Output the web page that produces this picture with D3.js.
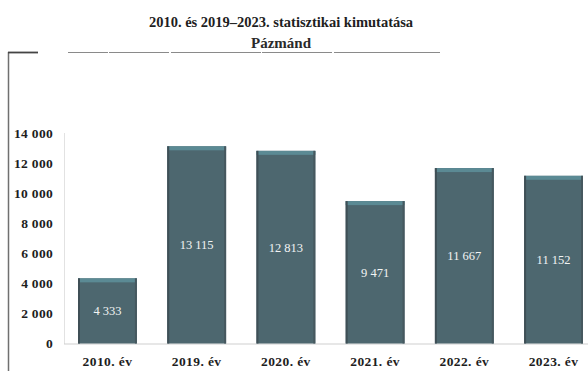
<!DOCTYPE html>
<html>
<head>
<meta charset="utf-8">
<script src="https://cdn.jsdelivr.net/npm/d3@7/dist/d3.min.js"></script>
<style>
  html, body { margin: 0; padding: 0; background: #fff; }
  svg { display: block; }
</style>
</head>
<body>
<svg id="chart" width="588" height="371"></svg>
<script>
// Pázmánd – annual figures, 2010 and 2019–2023
const categories = ["2010. év", "2019. év", "2020. év", "2021. év", "2022. év", "2023. év"];
const values = [4333, 13115, 12813, 9471, 11667, 11152];
const yTicks = [0, 2000, 4000, 6000, 8000, 10000, 12000, 14000];
const titleLines = ["2010. és 2019–2023. statisztikai kimutatása", "Pázmánd"];

const svg = d3.select("#chart");
const serif = "'Liberation Serif', 'DejaVu Serif', serif";

// thousands separated by a space, Hungarian style
const fmt = v => d3.format(",")(v).replace(/,/g, " ");

const x = d3.scaleBand()
  .domain(categories)
  .range([78, 583])
  .paddingInner(0.34)
  .paddingOuter(0);

const y = d3.scaleLinear()
  .domain([0, 14000])
  .range([343.5, 133]);

// page frame: left rule and top rule
svg.append("line")
  .attr("x1", 8.5).attr("x2", 8.5).attr("y1", 52).attr("y2", 371)
  .attr("stroke", "#707070").attr("stroke-width", 1.5);
svg.append("line")
  .attr("x1", 8).attr("x2", 38).attr("y1", 52.5).attr("y2", 52.5)
  .attr("stroke", "#444").attr("stroke-width", 1.8);
svg.append("line")
  .attr("x1", 68).attr("x2", 440).attr("y1", 52.5).attr("y2", 52.5)
  .attr("stroke", "#8a8a8a").attr("stroke-width", 1)
  .attr("stroke-dasharray", "40 1 60 2 90 1 70 2 110");

// title
svg.append("text")
  .attr("x", 281).attr("y", 27)
  .attr("text-anchor", "middle")
  .attr("font-family", serif).attr("font-weight", "bold")
  .attr("font-size", 14.5).attr("fill", "#1e1e1e")
  .text(titleLines[0]);
svg.append("text")
  .attr("x", 281).attr("y", 47.5)
  .attr("text-anchor", "middle")
  .attr("font-family", serif).attr("font-weight", "bold")
  .attr("font-size", 15).attr("fill", "#2a2a2a")
  .text(titleLines[1]);

// faint plot-area edge
svg.append("line")
  .attr("x1", 64.5).attr("x2", 64.5).attr("y1", 133).attr("y2", 344)
  .attr("stroke", "#e2e2e2").attr("stroke-width", 1);

// baseline
svg.append("line")
  .attr("x1", 64).attr("x2", 588).attr("y1", y(0) + 0.5).attr("y2", y(0) + 0.5)
  .attr("stroke", "#cfcfcf").attr("stroke-width", 1);

// y axis labels
const yAxis = d3.axisLeft(y)
  .tickValues(yTicks)
  .tickFormat(fmt)
  .tickSize(0)
  .tickPadding(0);
const gy = svg.append("g")
  .attr("transform", "translate(53,0)")
  .call(yAxis);
gy.select(".domain").remove();
gy.selectAll("text")
  .attr("font-family", serif).attr("font-weight", "bold")
  .attr("font-size", 13.5).attr("letter-spacing", 0.3).attr("fill", "#1e1e1e");

// x axis labels
const xAxis = d3.axisBottom(x).tickSize(0).tickPadding(0);
const gx = svg.append("g")
  .attr("transform", "translate(0,356)")
  .call(xAxis);
gx.select(".domain").remove();
gx.selectAll("text")
  .attr("font-family", serif).attr("font-weight", "bold")
  .attr("font-size", 13.5).attr("letter-spacing", 0.4).attr("fill", "#1e1e1e");

// bars
const bars = svg.append("g").selectAll("g.bar")
  .data(values.map((v, i) => ({ cat: categories[i], v })))
  .join("g").attr("class", "bar");

bars.append("rect")
  .attr("x", d => x(d.cat))
  .attr("y", d => y(d.v))
  .attr("width", x.bandwidth())
  .attr("height", d => y(0) - y(d.v))
  .attr("fill", "#4d676f");

// lighter top edge of each bar
bars.append("rect")
  .attr("x", d => x(d.cat))
  .attr("y", d => y(d.v))
  .attr("width", x.bandwidth())
  .attr("height", 4)
  .attr("fill", "#5b8a94");

// darker side edges
bars.append("rect")
  .attr("x", d => x(d.cat))
  .attr("y", d => y(d.v))
  .attr("width", 2)
  .attr("height", d => y(0) - y(d.v))
  .attr("fill", "#3f4f56");
bars.append("rect")
  .attr("x", d => x(d.cat) + x.bandwidth() - 2)
  .attr("y", d => y(d.v))
  .attr("width", 2)
  .attr("height", d => y(0) - y(d.v))
  .attr("fill", "#46585f");

// value labels in the middle of each bar
bars.append("text")
  .attr("x", d => x(d.cat) + x.bandwidth() / 2)
  .attr("y", d => (y(d.v) + y(0)) / 2)
  .attr("dy", "0.35em")
  .attr("text-anchor", "middle")
  .attr("font-family", serif)
  .attr("font-size", 12.5).attr("fill", "#f2f4f4")
  .text(d => fmt(d.v));
</script>
</body>
</html>
